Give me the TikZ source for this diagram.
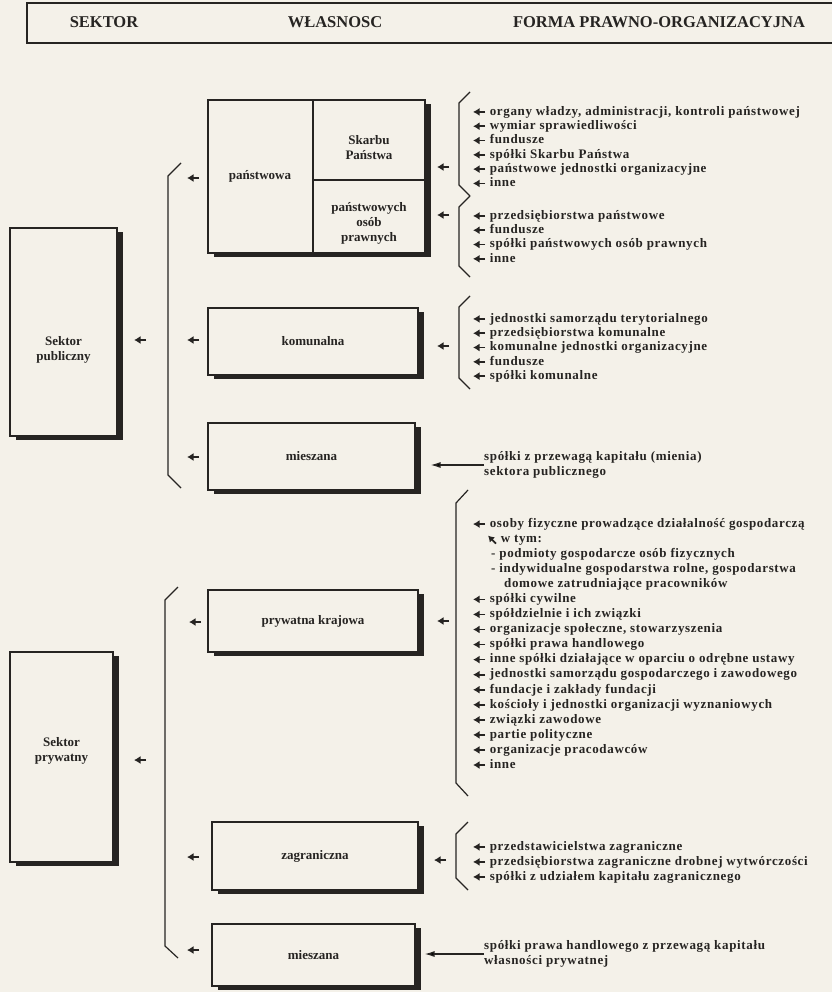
\documentclass[tikz,border=0pt]{standalone}
\usepackage{fontspec}
\setmainfont{Liberation Serif}
\usetikzlibrary{arrows.meta,shadows}
\definecolor{paper}{RGB}{244,241,233}
\definecolor{ink}{RGB}{38,36,34}
\newcommand{\arw}{\tikz[baseline=-3.3pt]\draw[ink,line width=1.7pt,-{Latex[length=6.5pt,width=8pt]}] (12pt,0pt) -- (0pt,0pt);}
\newcommand{\nwarw}{\tikz[baseline=-3.3pt]\draw[ink,line width=1.7pt,-{Latex[length=6pt,width=7.5pt]}] (8pt,-4.5pt) -- (0pt,3.5pt);}

\begin{document}
\begin{tikzpicture}[x=1pt,y=-1pt,
    sbox/.style={draw=ink,line width=1.1pt,fill=paper,inner sep=0pt,
      drop shadow={shadow xshift=6pt,shadow yshift=-4pt,fill=ink,opacity=1},
      font=\fontsize{13}{15}\selectfont\bfseries,text=ink,align=center},
    lbl/.style={font=\fontsize{13}{15}\selectfont\bfseries,text=ink,align=center},
    hd/.style={font=\fontsize{16.5}{17}\selectfont\bfseries,text=ink},
    lst/.style={font=\fontsize{13}{14.3}\selectfont\bfseries\addfontfeature{LetterSpace=5},
      text=ink,align=left,anchor=north west,inner sep=0pt},
    arr/.style={inner sep=0pt},
    brk/.style={draw=ink,line width=1.2pt},
    lng/.style={draw=ink,line width=1.3pt,-{Latex[length=10pt,width=6pt]}}]
  \fill[paper] (0,0) rectangle (832,992);
  \useasboundingbox (0,0) rectangle (832,992);
  \draw[ink,line width=1.3pt] (832,3) -- (27,3) -- (27,43) -- (832,43);
  \node[hd] (hsek) at (104,22) {SEKTOR};
  \node[hd] (hwl) at (335,22) {WŁASNOSC};
  \node[hd] (hfo) at (659,22) {FORMA PRAWNO-ORGANIZACYJNA};

  \node[sbox,minimum width=107pt,minimum height=208pt] (pub) at (63.5,332) {};
  \node[lbl] (pubt) at (63.5,350) {Sektor\\publiczny};
  \node[sbox,minimum width=103pt,minimum height=210pt] (prv) at (61.5,757) {};
  \node[lbl] (prvt) at (61.5,751) {Sektor\\prywatny};

  \node[sbox,minimum width=217pt,minimum height=153pt] (st) at (316.5,176.5) {};
  \coordinate (dv) at (313,180);
  \draw[ink,line width=1.1pt] (dv |- st.north) -- (dv |- st.south);
  \draw[ink,line width=1.1pt] (dv) -- (dv -| st.east);
  \node[lbl] (stt) at (260,176) {państwowa};
  \node[lbl] (skt) at (369,148) {Skarbu\\Państwa};
  \node[lbl] (opt) at (369,223) {państwowych\\osób\\prawnych};
  \node[sbox,minimum width=210pt,minimum height=67pt] (km) at (313,341.5) {komunalna};
  \node[sbox,minimum width=207pt,minimum height=67pt] (mp) at (311.5,456.5) {mieszana};
  \node[sbox,minimum width=210pt,minimum height=62pt] (kr) at (313,621) {prywatna krajowa};
  \node[sbox,minimum width=206pt,minimum height=68pt] (zg) at (315,856) {zagraniczna};
  \node[sbox,minimum width=203pt,minimum height=62pt] (mr) at (313.5,955) {mieszana};

  \draw[brk] (181,163) -- (168,176) -- (168,475) -- (181,488);
  \draw[brk] (178,587) -- (165,600) -- (165,946) -- (178,958);
  \draw[brk] (470,92) -- (459,103) -- (459,185) -- (470,196);
  \draw[brk] (470,196) -- (459,207) -- (459,266) -- (470,277);
  \draw[brk] (470,296) -- (459,307) -- (459,378) -- (470,389);
  \draw[brk] (468,490) -- (456,503) -- (456,783) -- (468,796);
  \draw[brk] (468,822) -- (456,834) -- (456,878) -- (468,890);

  \node[arr] (c1) at (140,340) {\arw};
  \node[arr] (c2) at (140,760) {\arw};
  \node[arr] (b1) at (193,178) {\arw};
  \node[arr] (b2) at (193,340) {\arw};
  \node[arr] (b3) at (193,457) {\arw};
  \node[arr] (b4) at (195,622) {\arw};
  \node[arr] (b5) at (193,857) {\arw};
  \node[arr] (b6) at (193,950) {\arw};
  \node[arr] (a1) at (443,167) {\arw};
  \node[arr] (a2) at (443,215) {\arw};
  \node[arr] (a3) at (443,346) {\arw};
  \node[arr] (a4) at (443,621) {\arw};
  \node[arr] (a5) at (440,860) {\arw};

  \node[lst] (l1) at (472,106) {\arw~organy władzy, administracji, kontroli państwowej\\
    \arw~wymiar sprawiedliwości\\ \arw~fundusze\\ \arw~spółki Skarbu Państwa\\
    \arw~państwowe jednostki organizacyjne\\ \arw~inne};
  \node[lst] (l2) at (472,210) {\arw~przedsiębiorstwa państwowe\\ \arw~fundusze\\
    \arw~spółki państwowych osób prawnych\\ \arw~inne};
  \node[lst] (l3) at (472,313) {\arw~jednostki samorządu terytorialnego\\
    \arw~przedsiębiorstwa komunalne\\ \arw~komunalne jednostki organizacyjne\\
    \arw~fundusze\\ \arw~spółki komunalne};
  \node[lst,font=\fontsize{13}{15.06}\selectfont\bfseries\addfontfeature{LetterSpace=5}] (l4) at (472,518) {\arw~osoby fizyczne prowadzące działalność gospodarczą\\
    \hspace*{15pt}\nwarw~w tym:\\
    \hspace*{19pt}- podmioty gospodarcze osób fizycznych\\
    \hspace*{19pt}- indywidualne gospodarstwa rolne, gospodarstwa\\
    \hspace*{32pt}domowe zatrudniające pracowników\\
    \arw~spółki cywilne\\ \arw~spółdzielnie i ich związki\\
    \arw~organizacje społeczne, stowarzyszenia\\ \arw~spółki prawa handlowego\\
    \arw~inne spółki działające w oparciu o odrębne ustawy\\
    \arw~jednostki samorządu gospodarczego i zawodowego\\
    \arw~fundacje i zakłady fundacji\\
    \arw~kościoły i jednostki organizacji wyznaniowych\\
    \arw~związki zawodowe\\ \arw~partie polityczne\\
    \arw~organizacje pracodawców\\ \arw~inne};
  \node[lst,font=\fontsize{13}{15}\selectfont\bfseries\addfontfeature{LetterSpace=5}] (l5) at (472,841) {\arw~przedstawicielstwa zagraniczne\\
    \arw~przedsiębiorstwa zagraniczne drobnej wytwórczości\\
    \arw~spółki z udziałem kapitału zagranicznego};

  \node[lst,anchor=west] (mpt) at (484,465) {spółki z przewagą kapitału (mienia)\\sektora publicznego};
  \node[lst,anchor=west] (mrt) at (484,954) {spółki prawa handlowego z przewagą kapitału\\własności prywatnej};
  \draw[lng,shorten >=15pt] (mpt.west) -- (mpt.west -| mp.east);
  \draw[lng,shorten >=9pt] (mrt.west) -- (mrt.west -| mr.east);
\end{tikzpicture}
\end{document}
